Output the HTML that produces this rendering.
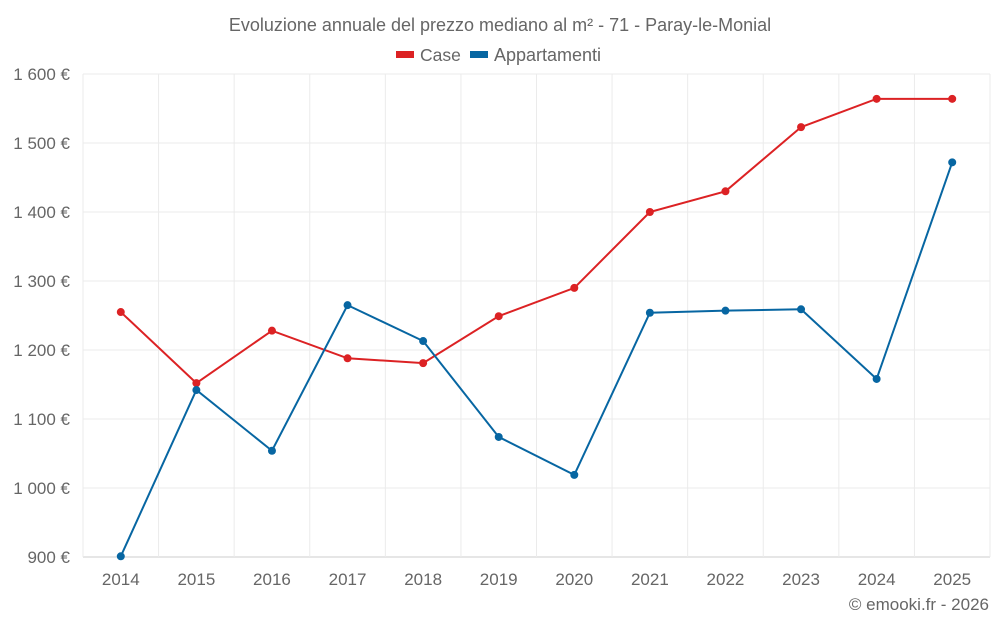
<!DOCTYPE html>
<html><head><meta charset="utf-8"><style>
html,body{margin:0;padding:0;background:#fff;}
body{width:1000px;height:625px;overflow:hidden;font-family:"Liberation Sans",sans-serif;}
</style></head><body>
<svg id="chart" width="1000" height="625" xmlns="http://www.w3.org/2000/svg" font-family="Liberation Sans, sans-serif">
<text x="500" y="31" text-anchor="middle" font-size="18" fill="#666">Evoluzione annuale del prezzo mediano al m² - 71 - Paray-le-Monial</text>
<g>
<g><rect x="396" y="51" width="18" height="7" fill="#dc2224"/><text x="420" y="61" font-size="17.5" fill="#666">Case</text></g>
<g><rect x="470" y="51" width="18" height="7" fill="#0766a2"/><text x="494" y="61" font-size="18" fill="#666">Appartamenti</text></g>
</g>
<g id="grid"></g>
<g id="axes"></g>
<g id="series"></g>
<text x="989" y="610" text-anchor="end" font-size="17" fill="#666">© emooki.fr - 2026</text>
</svg>
<script>
const years = ["2014","2015","2016","2017","2018","2019","2020","2021","2022","2023","2024","2025"];
const caseValues = [1255,1152,1228,1188,1181,1249,1290,1400,1430,1523,1564,1564];
const apptValues = [901,1142,1054,1265,1213,1074,1019,1254,1257,1259,1158,1472];
const yTicks = [900,1000,1100,1200,1300,1400,1500,1600];
const yTickLabels = ["900 €","1 000 €","1 100 €","1 200 €","1 300 €","1 400 €","1 500 €","1 600 €"];

const NS="http://www.w3.org/2000/svg";
const L=83,R=990,T=74,B=557,yMin=900,yMax=1600;
const step=(R-L)/years.length;
const x=i=>L+step*(i+0.5);
const y=v=>B-(v-yMin)/(yMax-yMin)*(B-T);
function mk(tag,attrs,parent){const e=document.createElementNS(NS,tag);for(const k in attrs)e.setAttribute(k,attrs[k]);parent.appendChild(e);return e;}
const grid=document.getElementById('grid'),axes=document.getElementById('axes'),series=document.getElementById('series');
yTicks.forEach((t,i)=>{
  const g=mk('line',{x1:L,x2:R,y1:y(t),y2:y(t),stroke:i===0?'#ccc':'#ebebeb','stroke-width':1},grid);
  
  
  const tx=mk('text',{x:70,y:y(t)+6,'text-anchor':'end','font-size':17,fill:'#666'},axes);
  tx.textContent=yTickLabels[i];
  
  
});
for(let i=0;i<=years.length;i++){
  const g=mk('line',{x1:L+step*i,x2:L+step*i,y1:T,y2:B,stroke:'#ebebeb','stroke-width':1},grid);
  
  
}
years.forEach((yr,i)=>{
  const tx=mk('text',{x:x(i),y:585,'text-anchor':'middle','font-size':17,fill:'#666'},axes);
  tx.textContent=yr;
  
  
});
function drawSeries(vals,color,name){
  const p=mk('polyline',{points:vals.map((v,i)=>x(i)+','+y(v)).join(' '),fill:'none',stroke:color,'stroke-width':2},series);
  
  
  vals.forEach((v,i)=>{
    const c=mk('circle',{cx:x(i),cy:y(v),r:4,fill:color},series);
    
    
  });
}
drawSeries(caseValues,'#dc2224','case');
drawSeries(apptValues,'#0766a2','appartamenti');
</script>
</body></html>
